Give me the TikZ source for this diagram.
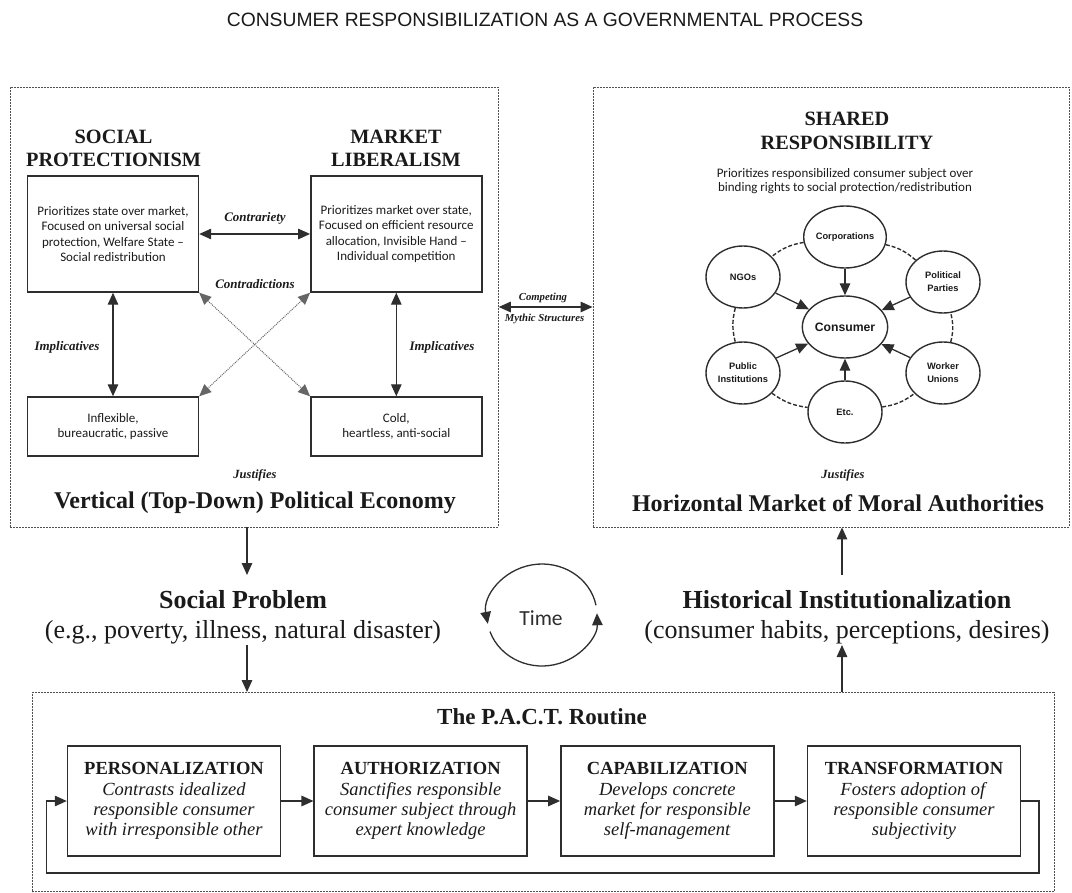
\documentclass[tikz,border=0pt]{standalone}
\usepackage{fontspec}
\setmainfont{Liberation Serif}
\newfontfamily\bodysans{Carlito}
\newfontfamily\headsans{Liberation Sans}
\usetikzlibrary{arrows.meta,shapes.geometric}

\definecolor{ink}{HTML}{1A1A1A}
\definecolor{linegray}{HTML}{2E2E2E}
\definecolor{framegray}{HTML}{505050}

\tikzset{
  frame/.style={draw=framegray, line width=0.9pt, dash pattern=on 2pt off 1pt, inner sep=0pt},
  cbox/.style={draw=linegray, line width=1.4pt, minimum width=171pt, align=center,
    font=\bodysans\fontsize{13}{15.3}\selectfont, text=ink},
  pbox/.style={draw=linegray, line width=1.4pt, minimum width=213pt, minimum height=110pt,
    align=center, font=\fontsize{18.5}{20}\selectfont, text=ink},
  arr/.style={draw=linegray, line width=1.3pt, -{Triangle[length=12pt,width=10.5pt]}},
  dbl/.style={draw=linegray, line width=1.3pt,
    {Triangle[length=12pt,width=10.5pt]}-{Triangle[length=12pt,width=10.5pt]}},
  xarr/.style={draw=black!60, line width=1pt, densely dotted,
    {Triangle[length=12pt,width=10.5pt]}-{Triangle[length=12pt,width=10.5pt]}},
  actor/.style={ellipse, draw=linegray, line width=1.4pt, fill=white, minimum width=74pt,
    minimum height=62pt, inner sep=0pt, align=center,
    font=\headsans\bfseries\fontsize{9.3}{13}\selectfont, text=ink},
  ring/.style={draw=linegray, line width=1.4pt, dash pattern=on 4pt off 2pt},
  lbl/.style={font=\bfseries\itshape\fontsize{13}{15}\selectfont, text=ink},
  just/.style={font=\bfseries\itshape\fontsize{12.5}{14}\selectfont, text=ink},
  head/.style={font=\bfseries\fontsize{20.3}{23.5}\selectfont, align=center, text=ink},
  big/.style={font=\bfseries\fontsize{24}{28}\selectfont, text=ink},
  mid/.style={font=\fontsize{26}{30}\selectfont, align=center, text=ink},
}

\begin{document}
\begin{tikzpicture}[x=1pt,y=1pt]
\useasboundingbox (0,0) rectangle (1072,-893);

% heading
\node[font=\headsans\fontsize{19.3}{21}\selectfont, text=ink] (title) at (545,-20)
  {CONSUMER RESPONSIBILIZATION AS A GOVERNMENTAL PROCESS};

% the three dashed frames
\node[frame, minimum width=488pt, minimum height=440pt] (left) at (254.3,-307) {};
\node[frame, minimum width=476pt, minimum height=440pt] (right) at (831,-307) {};
\node[frame, minimum width=1022pt, minimum height=199pt] (pact) at (543,-792) {};

% ---------- vertical political economy ----------
\node[head] (hsoc) at (113.6,-148.5) {SOCIAL\\PROTECTIONISM};
\node[head] (hmkt) at (396,-148.5) {MARKET\\LIBERALISM};

\node[cbox, minimum height=116pt] (soc) at (113,-234)
  {Prioritizes state over market,\\Focused on universal social\\protection, Welfare State \textendash\\Social redistribution};
\node[cbox, minimum height=116pt] (mkt) at (396.3,-234)
  {Prioritizes market over state,\\Focused on efficient resource\\allocation, Invisible Hand \textendash\\Individual competition};
\node[cbox, minimum height=59pt] (inf) at (113,-426.5) {Inflexible,\\bureaucratic, passive};
\node[cbox, minimum height=59pt] (cold) at (396.3,-426.5) {Cold,\\heartless, anti-social};

\draw[dbl] (soc.east) -- (mkt.west);
\draw[dbl] (soc.south) -- (inf.north);
\draw[dbl] (mkt.south) -- (cold.north);
\draw[xarr] (soc.south east) -- (cold.north west);
\draw[xarr] (mkt.south west) -- (inf.north east);

\node[lbl] (lcontr) at (255,-218) {Contrariety};
\node[lbl] (lcontd) at (255,-284) {Contradictions};
\node[lbl] (limpl) at (67,-347) {Implicatives};
\node[lbl] (limpr) at (442,-347) {Implicatives};

\node[just] (jl) at (255,-475) {Justifies};
\node[big] (vtitle) at (255,-503) {Vertical (Top-Down) Political Economy};

% ---------- horizontal market of moral authorities ----------
\node[head] (hshared) at (847,-131) {SHARED\\RESPONSIBILITY};
\node[font=\bodysans\fontsize{13}{14.5}\selectfont, align=center, text=ink] (sub) at (845,-181)
  {Prioritizes responsibilized consumer subject over\\binding rights to social protection/redistribution};

\node[actor, font=\headsans\bfseries\fontsize{12.2}{13}\selectfont] (cons) at (845,-327) {Consumer};
\node[actor] (corp) at (845,-237) {Corporations};
\node[actor] (ngo) at (743,-277) {NGOs};
\node[actor] (pol) at (943,-282) {Political\\Parties};
\node[actor] (pub) at (743,-373) {Public\\Institutions};
\node[actor] (wrk) at (943,-373) {Worker\\Unions};
\node[actor] (etc) at (845,-412) {Etc.};

\draw[ring] (corp) to[bend right=14] (ngo);
\draw[ring] (ngo) to[bend right=14] (pub);
\draw[ring] (pub) to[bend right=14] (etc);
\draw[ring] (etc) to[bend right=14] (wrk);
\draw[ring] (wrk) to[bend right=14] (pol);
\draw[ring] (pol) to[bend right=14] (corp);

\foreach \src in {corp,ngo,pol,pub,wrk,etc}
  \draw[arr] (\src) -- (cons);

\node[just] (jr) at (843,-475) {Justifies};
\node[big] (htitle) at (838,-503) {Horizontal Market of Moral Authorities};

% competing structures between the frames
\draw[dbl] (left.east) -- (right.west);
\node[font=\bfseries\itshape\fontsize{10.7}{12}\selectfont, text=ink] (comp1) at (543,-298) {Competing};
\node[font=\bfseries\itshape\fontsize{10.7}{12}\selectfont, text=ink] (comp2) at (544.5,-319) {Mythic Structures};

% ---------- middle row ----------
\node[mid] (prob) at (243,-617)
  {\textbf{Social Problem}\\(e.g., poverty, illness, natural disaster)};
\coordinate (probin) at (247,-575);
\coordinate (probout) at (247,-645);
\draw[arr] (probin |- left.south) -- (probin);
\draw[arr] (probout) -- (probout |- pact.north);

\node[mid] (hist) at (847,-617)
  {\textbf{Historical Institutionalization}\\(consumer habits, perceptions, desires)};
\coordinate (histin) at (842,-645);
\coordinate (histout) at (842,-575);
\draw[arr] (histin |- pact.north) -- (histin);
\draw[arr] (histout) -- (histout |- right.south);

\node[font=\bodysans\fontsize{21.5}{24}\selectfont, text=linegray] (time) at (541,-618) {Time};
\draw[arr] ([shift={(11:55 and 51)}]542,-615) arc[start angle=11, end angle=190, x radius=55, y radius=51];
\draw[arr] ([shift={(199:55 and 51)}]542,-615) arc[start angle=199, end angle=362, x radius=55, y radius=51];

% ---------- P.A.C.T. routine ----------
\node[font=\bfseries\fontsize{23}{25}\selectfont, text=ink] (pacttitle) at (542,-717) {The P.A.C.T. Routine};

\node[pbox] (pers) at (174,-801)
  {\textbf{PERSONALIZATION}\\[1.5pt]\textit{Contrasts idealized}\\\textit{responsible consumer}\\\textit{with irresponsible other}};
\node[pbox] (auth) at (420.67,-801)
  {\textbf{AUTHORIZATION}\\[1.5pt]\textit{Sanctifies responsible}\\\textit{consumer subject through}\\\textit{expert knowledge}};
\node[pbox] (capa) at (667.33,-801)
  {\textbf{CAPABILIZATION}\\[1.5pt]\textit{Develops concrete}\\\textit{market for responsible}\\\textit{self-management}};
\node[pbox] (trans) at (914,-801)
  {\textbf{TRANSFORMATION}\\[1.5pt]\textit{Fosters adoption of}\\\textit{responsible consumer}\\\textit{subjectivity}};

\draw[arr] (pers.east) -- (auth.west);
\draw[arr] (auth.east) -- (capa.west);
\draw[arr] (capa.east) -- (trans.west);

\coordinate (loopR) at (1039,-873);
\coordinate (loopL) at (46.5,-873);
\draw[arr] (trans.east) -| (loopR) -- (loopL) |- (pers.west);

\end{tikzpicture}
\end{document}
